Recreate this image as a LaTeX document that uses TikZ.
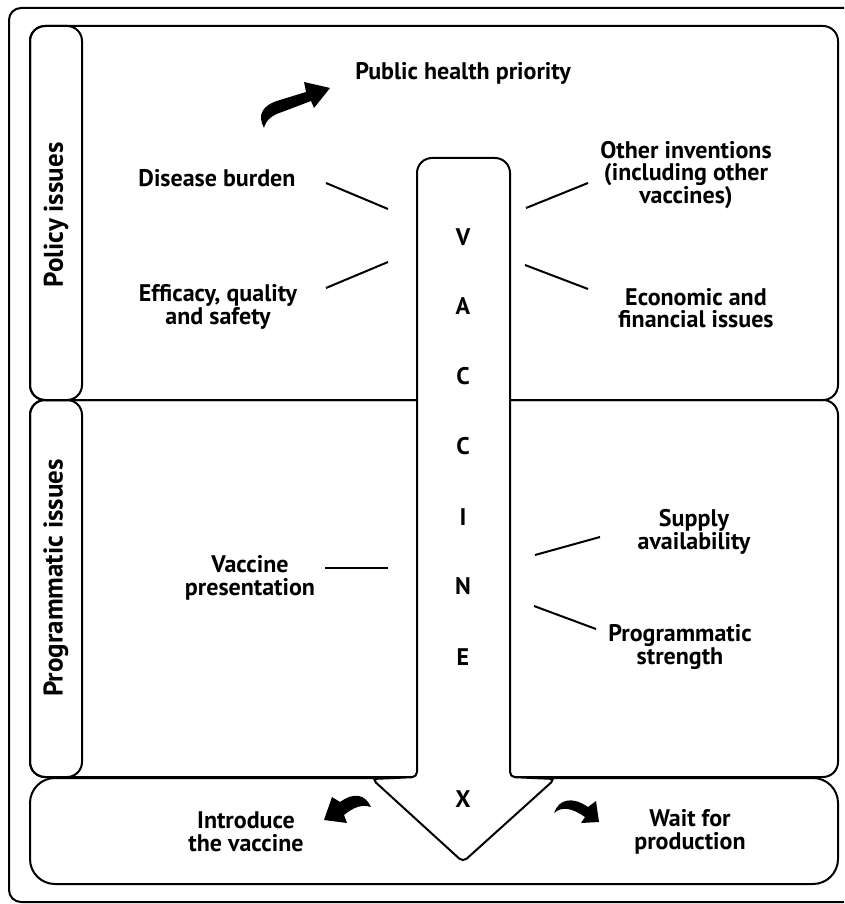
\documentclass[tikz,border=0pt]{standalone}
\usepackage{fontspec}
\setmainfont{PT Sans}
\usetikzlibrary{positioning}
\tikzset{
	panel/.style = {draw=black, line width=2pt, rounded corners=15pt},
	txt/.style = {align=center, inner sep=0pt,
		font=\fontsize{24}{22.5}\selectfont\bfseries},% labels in the panels
	side/.style = {txt, rotate=90,
		font=\fontsize{27}{24}\selectfont\bfseries},% column titles
	letter/.style = {inner sep=0pt, font=\fontsize{24}{25}\selectfont\bfseries},% letters in the arrow
	tick/.style = {line width=2pt},
	swoosh/.style = {fill=black, draw=none}
}

\begin{document}
\begin{tikzpicture}[x=1pt,y=-1pt]
\useasboundingbox (0,0) rectangle (844,904);
\clip (0,0) rectangle (844,904);
% frame and panels
\draw[line width=2pt, rounded corners=12pt] (9,8) rectangle (880,902);
\draw[panel] (30,26) rectangle (838,400);
\draw[panel] (30,400) rectangle (838,777);
\draw[panel, rounded corners=25pt] (30,778) rectangle (838,884);
\draw[panel] (30,26) rectangle (82,400);
\draw[panel] (30,400) rectangle (82,777);
% the big arrow
\draw[line width=2pt, fill=white, rounded corners=5pt] (372,779) -- (463,862) -- (555,779)
	-- (510,777) [rounded corners=15pt] -- (510,158) -- (417,158)
	[rounded corners=5pt] -- (417,777) -- cycle;
\foreach \l/\y [count=\i] in {V/237,A/306,C/376,C/446,I/517,N/586,E/657,X/799}
	\node[letter] (vx\i) at (463,\y) {\l};
% column titles
\node[side] (policy) at (56,215) {Policy issues};
\node[side] (programmatic) at (56,578) {Programmatic issues};
% labels
\node[txt] (priority) at (463,73) {Public health priority};
\node[txt] (burden) at (217,178) {Disease burden};
\node[txt] (efficacy) at (218,307) {Efficacy, quality\\and safety};
\node[txt] (inventions) at (686,175) {Other inventions\\(including other\\vaccines)};
\node[txt] (economic) at (696,308) {Economic and\\financial issues};
\node[txt] (presentation) at (250,578) {Vaccine\\presentation};
\node[txt] (supply) at (694,532) {Supply\\availability};
\node[txt] (strength) at (680,647) {Programmatic\\strength};
\node[txt] (introduce) at (246,832) {Introduce\\the vaccine};
\node[txt] (wait) at (690,832) {Wait for\\production};
% short strokes
\draw[tick] (326,183) -- (388,209);
\draw[tick] (326,288) -- (388,262);
\draw[tick] (526,208) -- (588,183);
\draw[tick] (525,265) -- (588,289);
\draw[tick] (325,568) -- (388,568);
\draw[tick] (535,555) -- (600,537);
\draw[tick] (534,606) -- (596,629);
% curved arrows
\fill[swoosh] (264,128) .. controls (257,115) and (262,105) .. (280,100) -- (306,92)
	-- (304,82) -- (330,88) -- (314,108) -- (311,101) -- (282,112)
	.. controls (272,115) and (266,120) .. cycle;
\fill[swoosh] (371,807) .. controls (365,794) and (354,792) .. (340,802) -- (332,797)
	-- (324,820) -- (347,823) -- (344,815) .. controls (354,807) and (362,804) .. cycle;
\fill[swoosh] (554,813) .. controls (559,799) and (572,796) .. (588,807) -- (596,801)
	-- (599,822) -- (581,823) -- (585,817) .. controls (572,808) and (562,806) .. cycle;
\end{tikzpicture}
\end{document}
